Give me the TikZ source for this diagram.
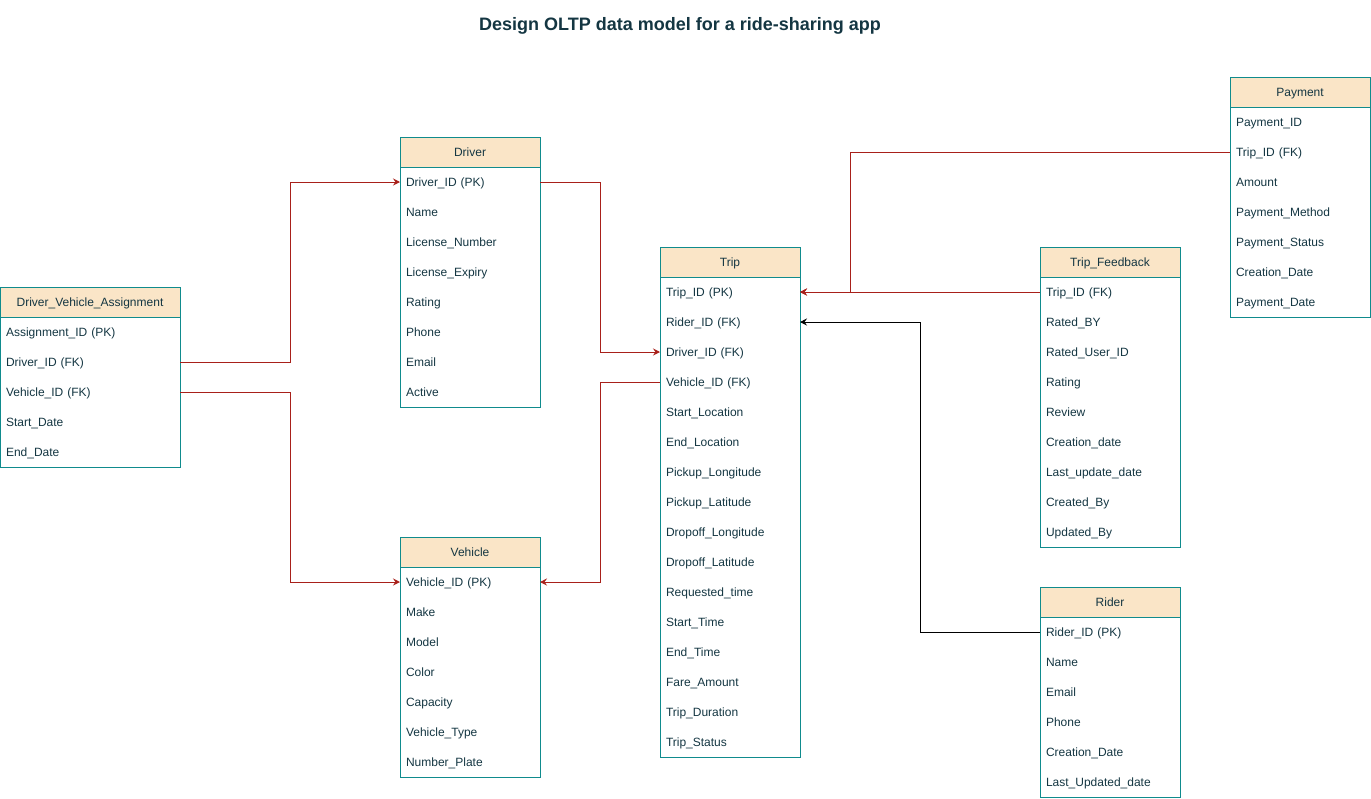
\documentclass[tikz,border=0pt]{standalone}
\usepackage{fontspec}
\setmainfont{Liberation Sans}
\usetikzlibrary{arrows.meta, positioning}

\definecolor{entfill}{HTML}{FAE5C7}
\definecolor{entline}{HTML}{0F8B8D}
\definecolor{enttext}{HTML}{143642}
\definecolor{fkline}{HTML}{A8201A}

\tikzset{
  enthead/.style={draw=entline, fill=entfill, line width=1pt, minimum height=30pt,
    inner sep=0pt, outer sep=0pt, text height=11pt, text depth=2.5pt,
    text=enttext, font=\fontsize{12}{14}\selectfont},
  entrow/.style={inner xsep=6pt, inner ysep=0pt, minimum height=30pt, outer sep=0pt,
    text height=11pt, text depth=2.5pt, align=left, text=enttext,
    font=\fontsize{12}{14}\selectfont},
  fk/.style={draw=fkline, line width=1pt, -{Stealth[length=7pt,width=7pt,inset=2.5pt]}},
  ref/.style={fk, draw=black}
}

% name, left, top, width, title, rows
\newcommand{\entity}[6]{%
  \pgfmathsetmacro\entw{#4-12}
  \node[enthead, minimum width=#4] (#1) at ({#2+#4/2}, {#3+15}) {#5};
  \foreach \r [count=\i] in {#6} {
    \node[entrow, text width=\entw pt] (#1-\i) at ({#2+#4/2}, {#3+15+30*\i}) {\r};
    \xdef\lastrow{\i}
  }
  \draw[entline, line width=1pt] (#1.north west) rectangle (#1-\lastrow.south east);
}

\begin{document}
\begin{tikzpicture}[x=1pt, y=-1pt]
  \useasboundingbox (0,0) rectangle (1371,798);

  \node[text=enttext, font=\fontsize{18}{22}\selectfont\bfseries] (title) at (680,26)
    {Design OLTP data model for a ride-sharing app};

  \entity{dva}{0}{287}{180}{Driver\_Vehicle\_Assignment}
    {Assignment\_ID (PK), Driver\_ID (FK), Vehicle\_ID (FK), Start\_Date, End\_Date}
  \entity{driver}{400}{137}{140}{Driver}
    {Driver\_ID (PK), Name, License\_Number, License\_Expiry, Rating, Phone, Email, Active}
  \entity{vehicle}{400}{537}{140}{Vehicle}
    {Vehicle\_ID (PK), Make, Model, Color, Capacity, Vehicle\_Type, Number\_Plate}
  \entity{trip}{660}{247}{140}{Trip}
    {Trip\_ID (PK), Rider\_ID (FK), Driver\_ID (FK), Vehicle\_ID (FK), Start\_Location,
     End\_Location, Pickup\_Longitude, Pickup\_Latitude, Dropoff\_Longitude,
     Dropoff\_Latitude, Requested\_time, Start\_Time, End\_Time, Fare\_Amount,
     Trip\_Duration, Trip\_Status}
  \entity{feedback}{1040}{247}{140}{Trip\_Feedback}
    {Trip\_ID (FK), Rated\_BY, Rated\_User\_ID, Rating, Review, Creation\_date,
     Last\_update\_date, Created\_By, Updated\_By}
  \entity{rider}{1040}{587}{140}{Rider}
    {Rider\_ID (PK), Name, Email, Phone, Creation\_Date, Last\_Updated\_date}
  \entity{payment}{1230}{77}{140}{Payment}
    {Payment\_ID, Trip\_ID (FK), Amount, Payment\_Method, Payment\_Status,
     Creation\_Date, Payment\_Date}

  \draw[fk] (dva-2.east) -- ++(110,0) |- (driver-1.west);
  \draw[fk] (dva-3.east) -- ++(110,0) |- (vehicle-1.west);
  \draw[fk] (driver-1.east) -- ++(60,0) |- (trip-3.west);
  \draw[fk] (trip-4.west) -- ++(-60,0) |- (vehicle-1.east);
  \draw[fk] (feedback-1.west) -- (trip-1.east);
  \draw[fk] (payment-2.west) -- ++(-380,0) |- (trip-1.east);
  \draw[ref] (rider-1.west) -- ++(-120,0) |- (trip-2.east);
\end{tikzpicture}
\end{document}
